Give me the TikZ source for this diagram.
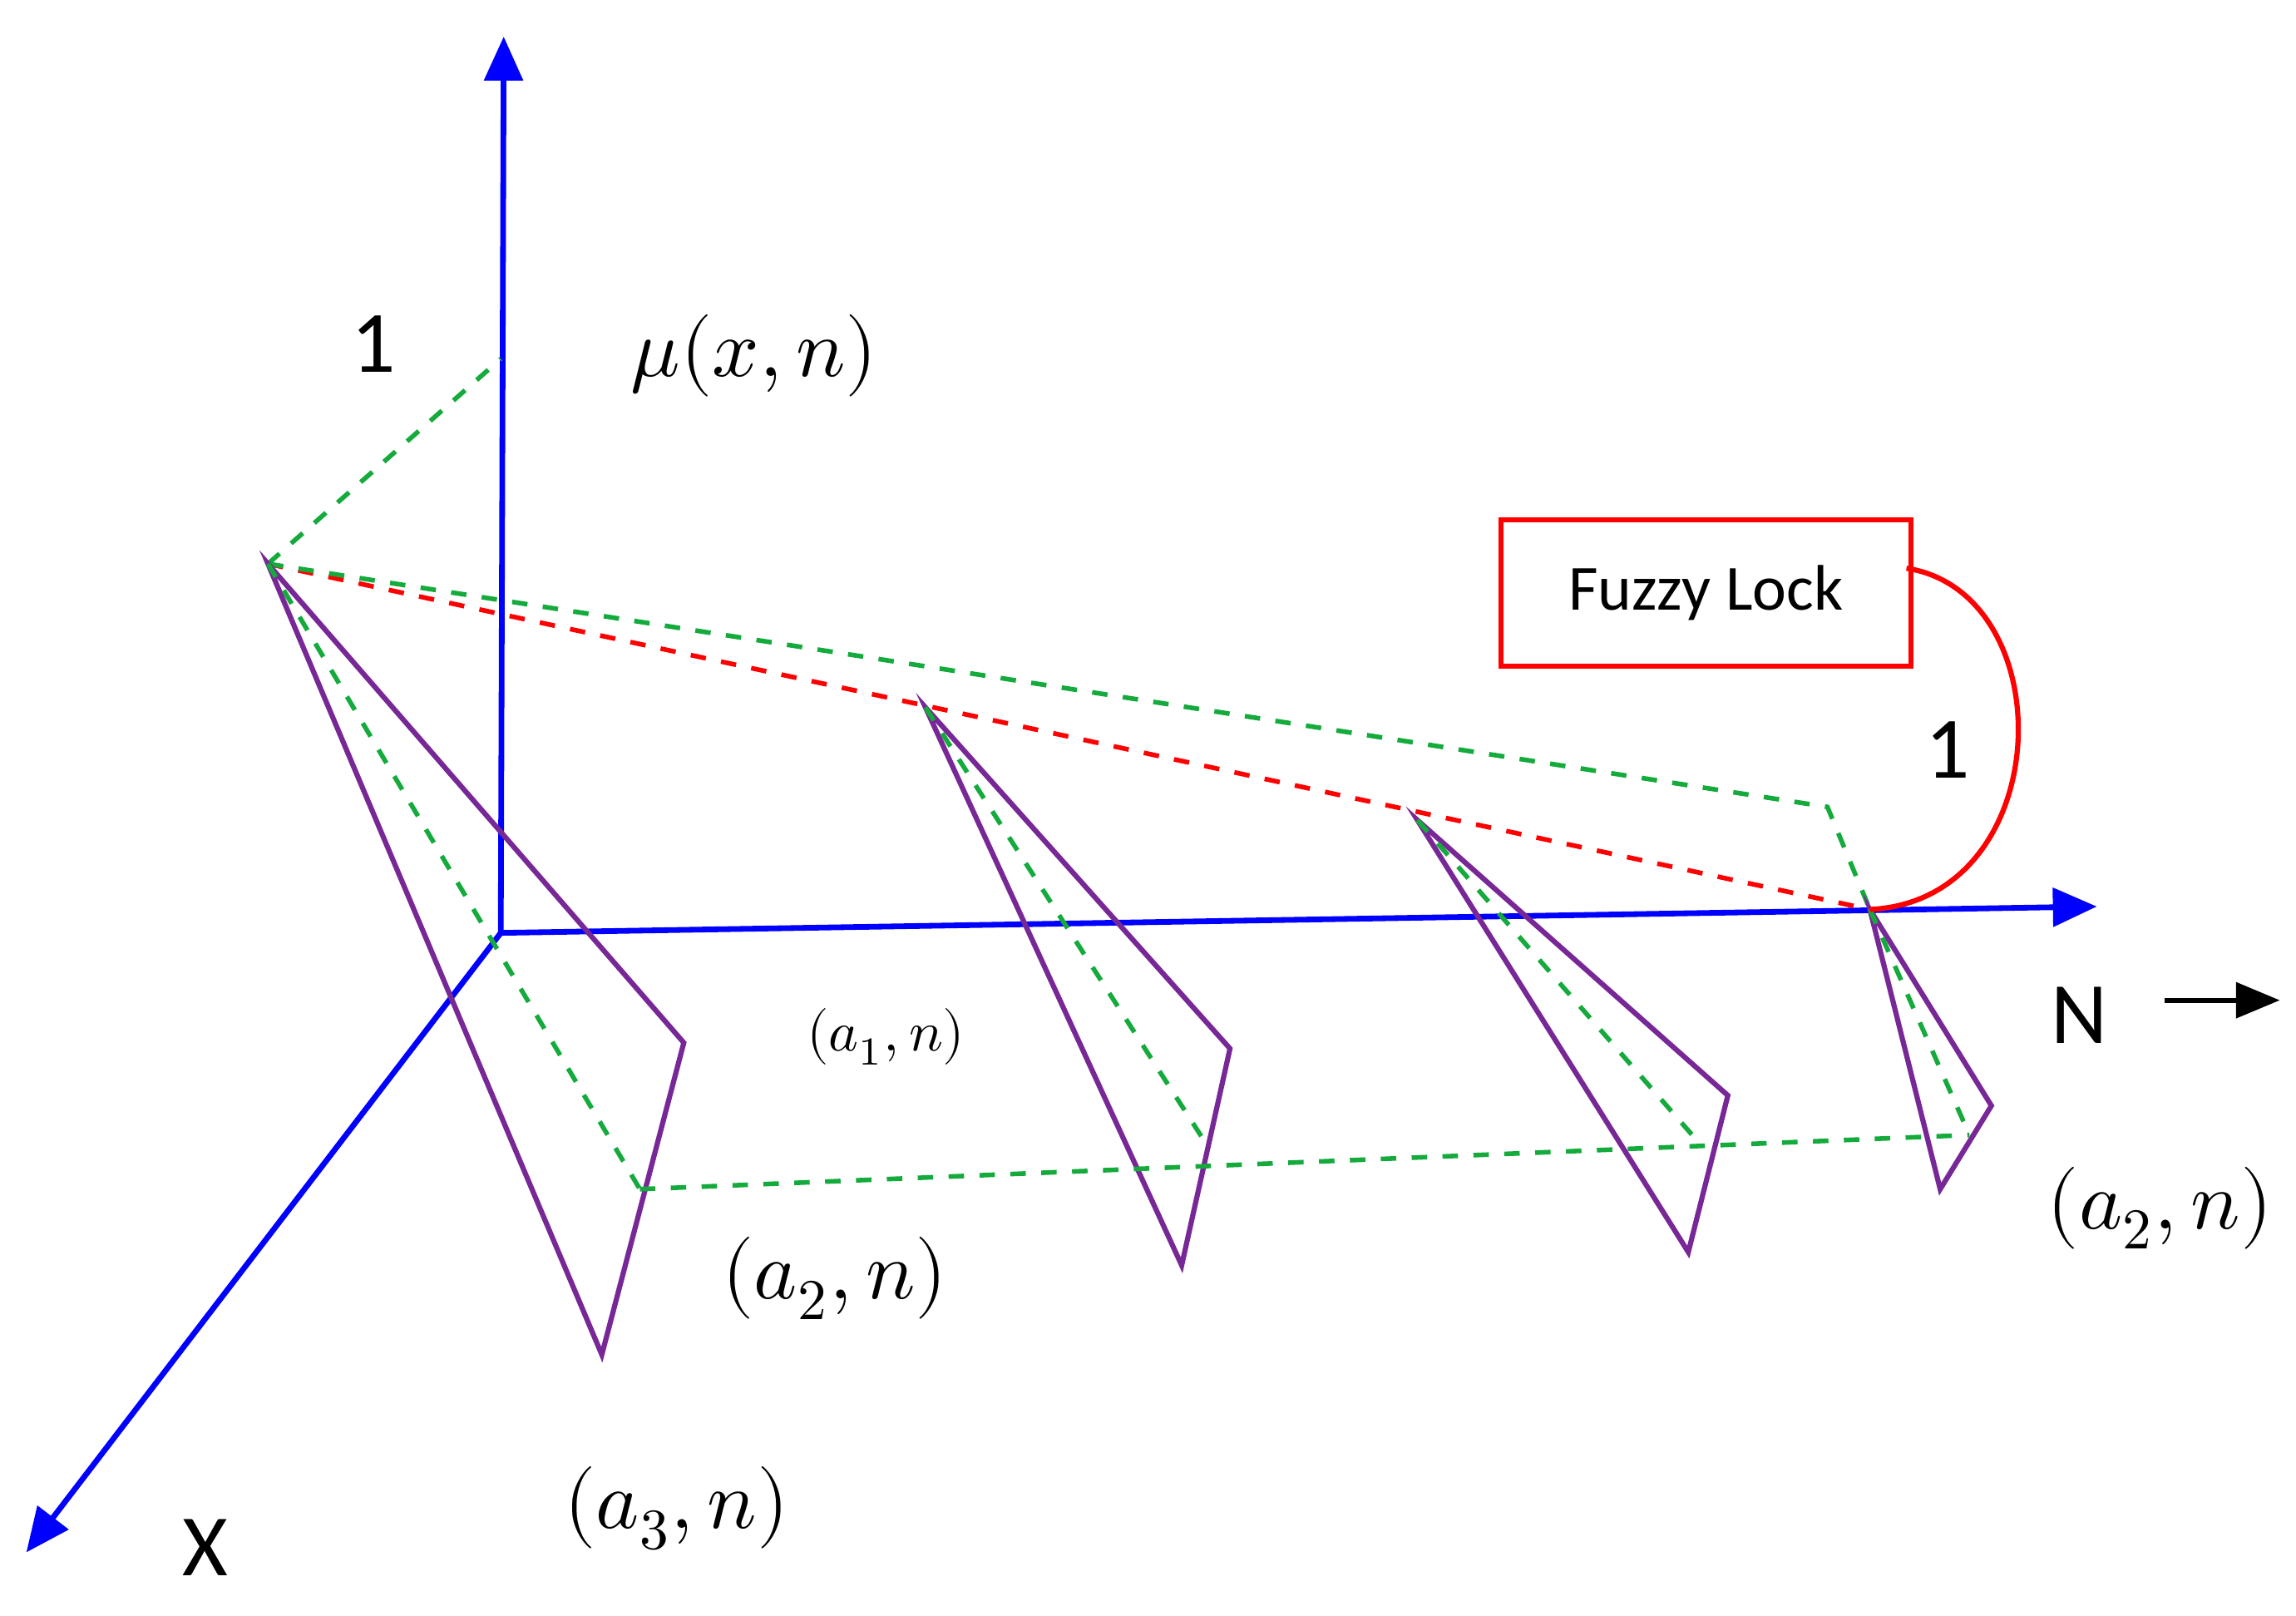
\documentclass[tikz,border=0pt]{standalone}
\usepackage{fontspec}
\setmainfont{Carlito}
\usepackage{unicode-math}
\setmathfont{Latin Modern Math}
\usetikzlibrary{arrows.meta}
\definecolor{gd}{RGB}{20,170,60}
\definecolor{pu}{RGB}{120,40,150}
\begin{document}
\begin{tikzpicture}[x=0.01cm,y=-0.01cm,
 ax/.style={blue,line width=1.1pt,-{Triangle[length=0.3cm,width=0.26cm]}},
 gr/.style={gd,dashed,line width=0.9pt},
 pl/.style={pu,line width=1pt},
 lb/.style={inner sep=0pt},
 big/.style={lb,font=\fontsize{16}{18}\selectfont}]
\useasboundingbox (0,0) rectangle (1568,1103);
\coordinate (O) at (342,637);
\coordinate (Yt) at (344,25);
\coordinate (Nt) at (1432,619);
\coordinate (Xt) at (18,1060);
\draw[ax] (O) -- (Yt);
\draw[ax] (O) -- (Nt);
\draw[ax] (O) -- (Xt);
\coordinate (P) at (183,385);
\coordinate (one) at (342,245);
\coordinate (A2) at (632,483);
\coordinate (A3) at (968,560);
\coordinate (A4) at (1277,621);
\coordinate (G) at (1248,551);
\coordinate (B1) at (467,712); \coordinate (C1) at (411,925); \coordinate (D1) at (437,812);
\coordinate (B2) at (840,716); \coordinate (C2) at (807,864); \coordinate (D2) at (825,783);
\coordinate (B3) at (1180,748); \coordinate (C3) at (1153,855); \coordinate (D3) at (1160,780);
\coordinate (B4) at (1360,755); \coordinate (C4) at (1325,812); \coordinate (D4) at (1345,775);
\draw[gr] (P) -- (one);
\draw[red,dashed,line width=0.9pt] (P) -- (A4);
\draw[gr] (P) -- (G) -- (A4);
\foreach \a/\b/\c/\d in {P/B1/C1/D1,A2/B2/C2/D2,A3/B3/C3/D3,A4/B4/C4/D4}{
 \draw[pl] (\a) -- (\b) -- (\c) -- cycle;
 \draw[gr] (\a) -- (\d);}
\draw[gr] (D1) -- (D4);
\node[draw=red,line width=1pt,minimum width=2.8cm,minimum height=1cm,font=\fontsize{12.5}{15}\selectfont] (fl) at (1165,405) {Fuzzy Lock};
\draw[red,line width=1pt] (1302,388) .. controls (1410,405) and (1405,615) .. (A4);
\node[lb,font=\fontsize{17}{19}\selectfont] (l1a) at (1330,512) {1};
\node[lb,font=\fontsize{17}{19}\selectfont] (l1b) at (255,235) {1};
\node[big] (mu) at (515,243) {$\mu(x,n)$};
\node[lb,font=\fontsize{11}{13}\selectfont] (a1) at (605,708) {$(a_1,n)$};
\node[big] (a2) at (570,873) {$(a_2,n)$};
\node[big] (a2b) at (1475,825) {$(a_2,n)$};
\node[big] (a3) at (462,1030) {$(a_3,n)$};
\node[lb,font=\fontsize{17}{19}\selectfont] (xl) at (140,1057) {X};
\node[lb,font=\fontsize{17}{19}\selectfont] (nl) at (1420,693) {N};
\coordinate (na) at (1478,683); \coordinate (nb) at (1557,683);
\draw[line width=1pt,-{Triangle[length=0.3cm,width=0.24cm]}] (na) -- (nb);
\end{tikzpicture}
\end{document}
